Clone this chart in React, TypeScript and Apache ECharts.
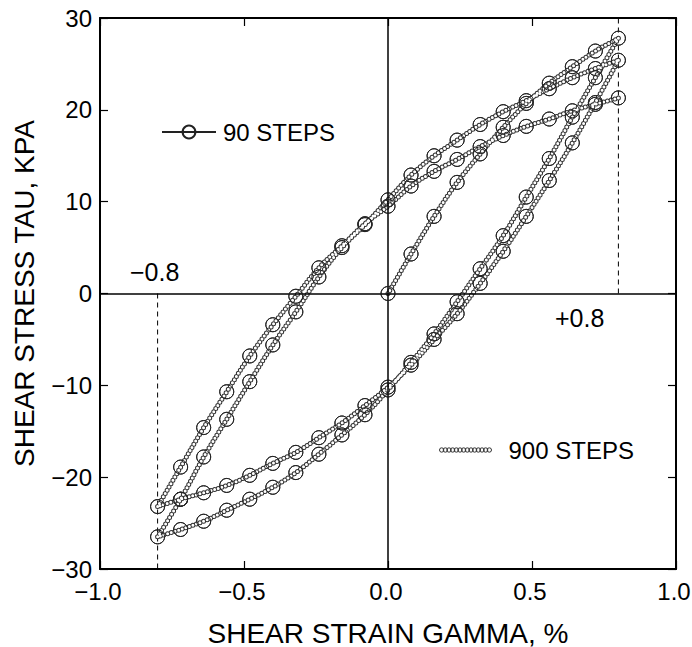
import React, { useEffect, useRef } from "react";
import * as echarts from "echarts";

// Strain grids (%) for each branch of the loading path
const strainInitial = [0, 0.08, 0.16, 0.24, 0.32, 0.4, 0.48, 0.56, 0.64, 0.72, 0.8];
const strainUnload = [0.8, 0.72, 0.64, 0.56, 0.48, 0.4, 0.32, 0.24, 0.16, 0.08, 0, -0.08, -0.16, -0.24, -0.32, -0.4, -0.48, -0.56, -0.64, -0.72, -0.8];
const strainReload = [-0.8, -0.72, -0.64, -0.56, -0.48, -0.4, -0.32, -0.24, -0.16, -0.08, 0, 0.08, 0.16, 0.24, 0.32, 0.4, 0.48, 0.56, 0.64, 0.72, 0.8];

// Shear stress (kPa) read along each branch
const tauLoad0 = [0, 4.3, 8.4, 12.1, 15.2, 18.1, 20.7, 22.9, 24.7, 26.4, 27.8];
const tauUnload1 = [27.8, 23.5, 19.2, 14.7, 10.5, 6.3, 2.7, -0.9, -4.4, -7.5, -10.5, -13.2, -15.4, -17.5, -19.5, -21.1, -22.4, -23.6, -24.8, -25.7, -26.5];
const tauReload1 = [-26.5, -22.4, -17.8, -13.7, -9.6, -5.6, -2.0, 1.8, 5.0, 7.5, 10.2, 12.9, 15.0, 16.7, 18.4, 19.8, 21.0, 22.3, 23.5, 24.5, 25.4];
const tauUnload2 = [25.4, 20.8, 16.4, 12.3, 8.4, 4.6, 1.1, -2.2, -5.0, -7.8, -10.2, -12.2, -14.1, -15.7, -17.3, -18.5, -19.8, -20.9, -21.7, -22.4, -23.2];
const tauReload2 = [-23.2, -18.9, -14.6, -10.7, -6.8, -3.4, -0.3, 2.8, 5.2, 7.6, 9.5, 11.7, 13.3, 14.6, 16.0, 17.2, 18.2, 19.0, 19.9, 20.6, 21.3];

const xTicks = [-1.0, -0.5, 0.0, 0.5, 1.0];
const yTicks = [-30, -20, -10, 0, 10, 20, 30];

const strainAmplitude = 0.8;
const annotations = ["\u22120.8", "+0.8"];

const FONT = "'Liberation Sans', Arial, Helvetica, sans-serif";

function pair(xs: number[], ys: number[]) {
  return xs.map((x, i) => [x, ys[i]]);
}

const branches = [
  pair(strainInitial, tauLoad0),
  pair(strainUnload, tauUnload1),
  pair(strainReload, tauReload1),
  pair(strainUnload, tauUnload2),
  pair(strainReload, tauReload2),
];

function fmtMinus(v: number, digits: number) {
  const s = v.toFixed(digits);
  return s.replace("-", "\u2212");
}

// legend icon: a short chain of small hollow beads
function beadChainIcon() {
  let d = "path://";
  const r = 2.2;
  for (let i = 0; i < 14; i++) {
    const cx = r + i * 3.7;
    d += `M${(cx - r).toFixed(2)},${r}a${r},${r} 0 1,0 ${2 * r},0a${r},${r} 0 1,0 ${-2 * r},0`;
  }
  return d;
}

export default function App() {
  const ref = useRef<HTMLDivElement>(null);

  useEffect(() => {
    document.body.style.margin = "0";
    const chart = echarts.init(ref.current!, undefined, { renderer: "svg" });

    const path90: number[][] = [];
    branches.forEach((b, bi) => {
      b.forEach((p, i) => {
        if (bi > 0 && i === 0) return;
        path90.push(p);
      });
    });

    const series: any[] = [];

    // 90 steps: thin line with circles (named, for legend)
    series.push({
      name: "90 STEPS",
      type: "line",
      data: path90,
      showSymbol: true,
      symbol: "circle",
      symbolSize: 14,
      lineStyle: { color: "#222", width: 1 },
      itemStyle: { color: "rgba(255,255,255,0)", borderColor: "#222", borderWidth: 1 },
      z: 2,
      markLine: {
        silent: true,
        symbol: "none",
        label: { show: false },
        lineStyle: { color: "#000", width: 1.5, type: "solid" },
        data: [{ xAxis: 0 }, { yAxis: 0 }],
      },
    });

    // Dashed reference lines at +/- 0.8
    series.push({
      type: "line",
      data: [[strainAmplitude, 0], [strainAmplitude, 30]],
      showSymbol: false,
      symbol: "none",
      lineStyle: { color: "#000", width: 1, type: [5, 4] },
      z: 1,
      silent: true,
    });
    series.push({
      type: "line",
      data: [[-strainAmplitude, 0], [-strainAmplitude, -30]],
      showSymbol: false,
      symbol: "none",
      lineStyle: { color: "#000", width: 1, type: [5, 4] },
      z: 1,
      silent: true,
    });

    // 900 steps: chain of small hollow beads
    branches.forEach((b) => {
      series.push({
        name: "900 STEPS",
        type: "line",
        data: b,
        smooth: 0.35,
        symbol: "none",
        showSymbol: false,
        lineStyle: { color: "#333", width: 5, type: [0, 3.8], cap: "round" },
        z: 3,
      });
    });
    branches.forEach((b) => {
      series.push({
        name: "chain-inner",
        type: "line",
        data: b,
        smooth: 0.35,
        symbol: "none",
        showSymbol: false,
        lineStyle: { color: "#fff", width: 3, type: [0, 3.8], cap: "round" },
        z: 4,
      });
    });

    // 90 steps circles on top
    series.push({
      name: "90 circles",
      type: "line",
      data: path90,
      showSymbol: true,
      symbol: "circle",
      symbolSize: 14,
      lineStyle: { width: 0, opacity: 0 },
      itemStyle: { color: "rgba(255,255,255,0)", borderColor: "#222", borderWidth: 1 },
      z: 5,
    });

    const axisCommon = {
      type: "value",
      axisLine: { onZero: false, lineStyle: { color: "#000", width: 2 } },
      axisTick: { inside: true, length: 8, lineStyle: { color: "#000", width: 1.2 } },
      splitLine: { show: false },
    };

    chart.setOption({
      animation: false,
      backgroundColor: "#fff",
      grid: {
        left: 100,
        right: 16,
        top: 18,
        bottom: 78,
        containLabel: false,
        outerBoundsMode: "none",
      },
      xAxis: [
        {
          ...axisCommon,
          position: "bottom",
          min: xTicks[0],
          max: xTicks[xTicks.length - 1],
          interval: 0.5,
          axisLabel: {
            color: "#000",
            fontSize: 24,
            fontFamily: FONT,
            margin: 10,
            padding: [0, 4, 0, 0],
            formatter: (v: number) => fmtMinus(v, 1),
          },
          name: "SHEAR STRAIN GAMMA, %",
          nameLocation: "middle",
          nameGap: 50,
          nameTextStyle: { color: "#000", fontSize: 28, fontFamily: FONT },
        },
        {
          ...axisCommon,
          position: "top",
          min: xTicks[0],
          max: xTicks[xTicks.length - 1],
          interval: 0.5,
          axisLabel: { show: false },
        },
      ],
      yAxis: [
        {
          ...axisCommon,
          position: "left",
          min: yTicks[0],
          max: yTicks[yTicks.length - 1],
          interval: 10,
          axisLabel: {
            color: "#000",
            fontSize: 24,
            fontFamily: FONT,
            margin: 8,
            padding: [0, 0, 6, 0],
            formatter: (v: number) => fmtMinus(v, 0),
          },
          name: "SHEAR STRESS TAU, KPA",
          nameLocation: "middle",
          nameGap: 62,
          nameTextStyle: { color: "#000", fontSize: 28, fontFamily: FONT },
        },
        {
          ...axisCommon,
          position: "right",
          min: yTicks[0],
          max: yTicks[yTicks.length - 1],
          interval: 10,
          axisLabel: { show: false },
        },
      ],
      legend: [
        {
          data: ["90 STEPS"],
          left: 156,
          top: 115,
          itemWidth: 54,
          itemHeight: 16,
          textStyle: { color: "#000", fontSize: 24, fontFamily: FONT, padding: [0, 0, 0, 2] },
          selectedMode: false,
        },
        {
          data: [{ name: "900 STEPS", icon: beadChainIcon() }],
          left: 434,
          top: 433,
          itemWidth: 52,
          itemHeight: 5,
          itemStyle: { color: "#fff", borderColor: "#333", borderWidth: 1 },
          textStyle: { color: "#000", fontSize: 24, fontFamily: FONT, padding: [0, 0, 0, 12] },
          selectedMode: false,
        },
      ],
      graphic: [
        {
          type: "text",
          left: 130,
          top: 259,
          style: { text: annotations[0], fontSize: 25, fontFamily: FONT, fill: "#000" },
        },
        {
          type: "text",
          left: 555,
          top: 305,
          style: { text: annotations[1], fontSize: 25, fontFamily: FONT, fill: "#000" },
        },
      ],
      series,
    });

    return () => chart.dispose();
  }, []);

  return <div ref={ref} style={{ width: 692, height: 647 }} />;
}
